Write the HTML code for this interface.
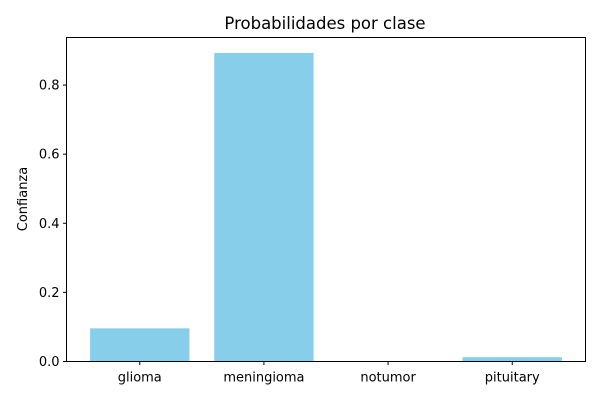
<!DOCTYPE html>
<html><head><meta charset="utf-8"><style>
body{margin:0;background:#fff;}
text{font-family:"DejaVu Sans","Liberation Sans",sans-serif;fill:#000;}
</style></head><body>
<svg id="chart" width="600" height="400" xmlns="http://www.w3.org/2000/svg">
<text x="325" y="29" font-size="16.5" text-anchor="middle">Probabilidades por clase</text>
<text transform="translate(27,199) rotate(-90)" font-size="13" text-anchor="middle">Confianza</text>
<g id="bars"></g><g id="ticks"></g>
<rect x="66.5" y="37.5" width="519" height="324" fill="none" stroke="#000" stroke-width="1"/>
</svg>
<script>
const categories=["glioma","meningioma","notumor","pituitary"];
const values=[0.096,0.893,0.0005,0.0125];
const yTicks=[0,0.2,0.4,0.6,0.8];
const yTickLabels=["0.0","0.2","0.4","0.6","0.8"];
const L=66.5,R=585.5,T=37.5,B=361.5;
const ymax=Math.max(...values)*1.05;
const xmin=-0.59,xmax=categories.length-1+0.59;
const x=v=>L+(v-xmin)/(xmax-xmin)*(R-L);
const y=v=>B-v/ymax*(B-T);
const NS="http://www.w3.org/2000/svg";
const bars=document.getElementById('bars'),ticks=document.getElementById('ticks');
function mk(tag,attrs,parent){const e=document.createElementNS(NS,tag);for(const k in attrs)e.setAttribute(k,attrs[k]);parent.appendChild(e);return e;}
categories.forEach((c,i)=>{
 const r=mk('rect',{x:x(i-0.4),y:y(values[i]),width:x(i+0.4)-x(i-0.4),height:B-y(values[i]),fill:'#87ceeb'},bars);
 
 
 const t=mk('line',{x1:x(i),x2:x(i),y1:B,y2:B+3.5,stroke:'#000'},ticks);
 
 
 const l=mk('text',{x:x(i),y:B+20,'font-size':13,'text-anchor':'middle'},ticks);
 l.textContent=c;
 
 
});
yTicks.forEach((v,i)=>{
 const t=mk('line',{x1:L-3.5,x2:L,y1:y(v),y2:y(v),stroke:'#000'},ticks);
 
 
 const l=mk('text',{x:L-7,y:y(v)+4.5,'font-size':13,'text-anchor':'end'},ticks);
 l.textContent=yTickLabels[i];
 
 
});
</script>
</body></html>
